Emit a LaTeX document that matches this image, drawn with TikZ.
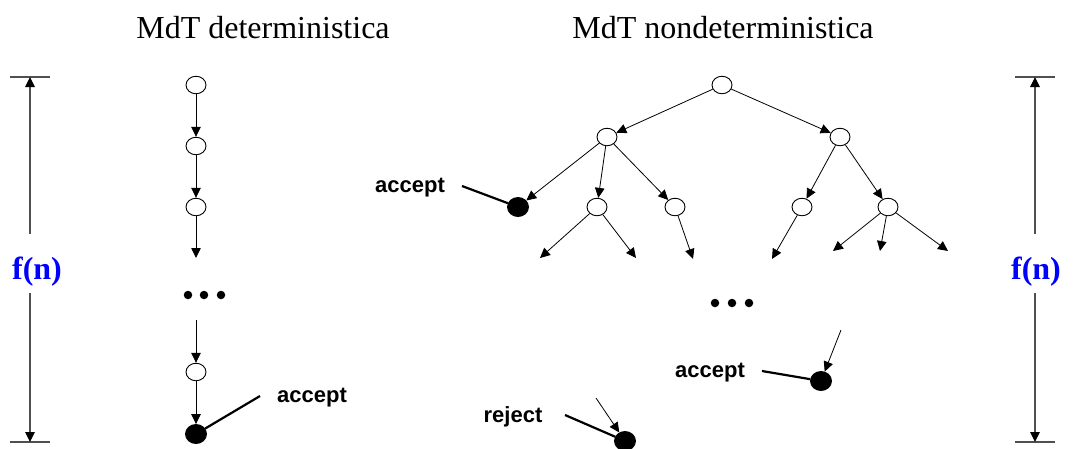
\documentclass[tikz,border=0pt]{standalone}
\usepackage{fontspec}
\setmainfont{Liberation Serif}
\newfontfamily\lsans{Liberation Sans}
\usetikzlibrary{arrows.meta,shapes.geometric}
\definecolor{fnblue}{RGB}{0,0,255}
\definecolor{dimgray}{RGB}{80,80,80}
\tikzset{
  st/.style={draw=black, line width=0.9pt, fill=white, ellipse, minimum width=20pt, minimum height=17.5pt, inner sep=0pt},
  fst/.style={draw=black, line width=0.9pt, fill=black, ellipse, minimum width=21pt, minimum height=19pt, inner sep=0pt},
  dotn/.style={circle, fill=black, minimum size=8.5pt, inner sep=0pt},
  arr/.style={draw=black, line width=0.8pt, -{Triangle[width=9.5pt,length=10pt]}},
  dimarr/.style={draw=dimgray, line width=1.2pt, -{Triangle[width=9.5pt,length=10pt,color=black]}},
  dimbar/.style={draw=dimgray, line width=1.2pt},
  ptr/.style={draw=black, line width=2.2pt},
  lbl/.style={font=\lsans\bfseries\fontsize{22}{26}\selectfont, anchor=base, inner sep=0pt},
  ttl/.style={font=\fontsize{32}{38}\selectfont, anchor=base, inner sep=0pt},
  fn/.style={font=\bfseries\fontsize{32}{38}\selectfont, text=fnblue, anchor=base, inner sep=0pt}
}
\begin{document}
\begin{tikzpicture}[x=1pt,y=-1pt]
\useasboundingbox (0,0) rectangle (1074,448);

% titles
\node[ttl] (t1) at (263,38) {MdT deterministica};
\node[ttl] (t2) at (723,38) {MdT nondeterministica};

% left dimension
\coordinate (lt1) at (10,77); \coordinate (lt2) at (50,77); \coordinate (ltm) at (30,77);
\coordinate (lb1) at (10,442); \coordinate (lb2) at (50,442); \coordinate (lbm) at (30,442);
\coordinate (lu) at (30,234); \coordinate (ld) at (30,293);
\draw[dimbar] (lt1) -- (lt2);
\draw[dimbar] (lb1) -- (lb2);
\draw[dimarr] (lu) -- (ltm);
\draw[dimarr] (ld) -- (lbm);
\node[fn] (fl) at (37,279) {f(n)};

% right dimension
\coordinate (rt1) at (1015,77); \coordinate (rt2) at (1055,77); \coordinate (rtm) at (1035,77);
\coordinate (rb1) at (1015,442); \coordinate (rb2) at (1055,442); \coordinate (rbm) at (1035,442);
\coordinate (ru) at (1035,234); \coordinate (rd) at (1035,293);
\draw[dimbar] (rt1) -- (rt2);
\draw[dimbar] (rb1) -- (rb2);
\draw[dimarr] (ru) -- (rtm);
\draw[dimarr] (rd) -- (rbm);
\node[fn] (fr) at (1036,279) {f(n)};

% deterministic chain
\node[st] (c1) at (196,85) {};
\node[st] (c2) at (196,146) {};
\node[st] (c3) at (196,207) {};
\coordinate (ce) at (196,258);
\node[dotn] (cd1) at (188,295) {};
\node[dotn] (cd2) at (204,295) {};
\node[dotn] (cd3) at (221,295) {};
\coordinate (cs) at (196,320);
\node[st] (c4) at (196,372) {};
\node[fst] (c5) at (196,434) {};
\draw[arr] (c1) -- (c2);
\draw[arr] (c2) -- (c3);
\draw[arr] (c3) -- (ce);
\draw[arr] (cs) -- (c4);
\draw[arr] (c4) -- (c5);
\node[lbl] (la1) at (312,402) {accept};
\coordinate (pa1) at (260,396);
\draw[ptr] (pa1) -- (c5);

% nondeterministic tree
\node[st] (r) at (722,85) {};
\node[st] (L) at (607,137) {};
\node[st] (R) at (840,137) {};
\node[fst] (fa) at (518,207) {};
\node[st] (m1) at (597,207) {};
\node[st] (m2) at (675,207) {};
\node[st] (m3) at (802,207) {};
\node[st] (m4) at (888,207) {};
\draw[arr] (r) -- (L);
\draw[arr] (r) -- (R);
\draw[arr] (L) -- (fa);
\draw[arr] (L) -- (m1);
\draw[arr] (L) -- (m2);
\draw[arr] (R) -- (m3);
\draw[arr] (R) -- (m4);
\coordinate (e1) at (540,258);
\coordinate (e2) at (636,258);
\coordinate (e3) at (693,259);
\coordinate (e4) at (772,259);
\coordinate (e5) at (833,251);
\coordinate (e6) at (880,251);
\coordinate (e7) at (948,251);
\draw[arr] (m1) -- (e1);
\draw[arr] (m1) -- (e2);
\draw[arr] (m2) -- (e3);
\draw[arr] (m3) -- (e4);
\draw[arr] (m4) -- (e5);
\draw[arr] (m4) -- (e6);
\draw[arr] (m4) -- (e7);
\node[lbl] (la2) at (410,192) {accept};
\coordinate (pa2) at (462,186);
\draw[ptr] (pa2) -- (fa);

\node[dotn] (td1) at (715,303) {};
\node[dotn] (td2) at (732,303) {};
\node[dotn] (td3) at (749,303) {};

% accept right
\node[fst] (ar) at (821,381) {};
\coordinate (ars) at (841,330);
\draw[arr] (ars) -- (ar);
\node[lbl] (la3) at (710,377) {accept};
\coordinate (pa3) at (762,371);
\draw[ptr] (pa3) -- (ar);

% reject
\node[fst] (rj) at (625,441) {};
\coordinate (rjs) at (596,398);
\draw[arr] (rjs) -- (rj);
\node[lbl] (lr) at (513,422) {reject};
\coordinate (pr) at (565,415);
\draw[ptr] (pr) -- (rj);
\end{tikzpicture}
\end{document}
